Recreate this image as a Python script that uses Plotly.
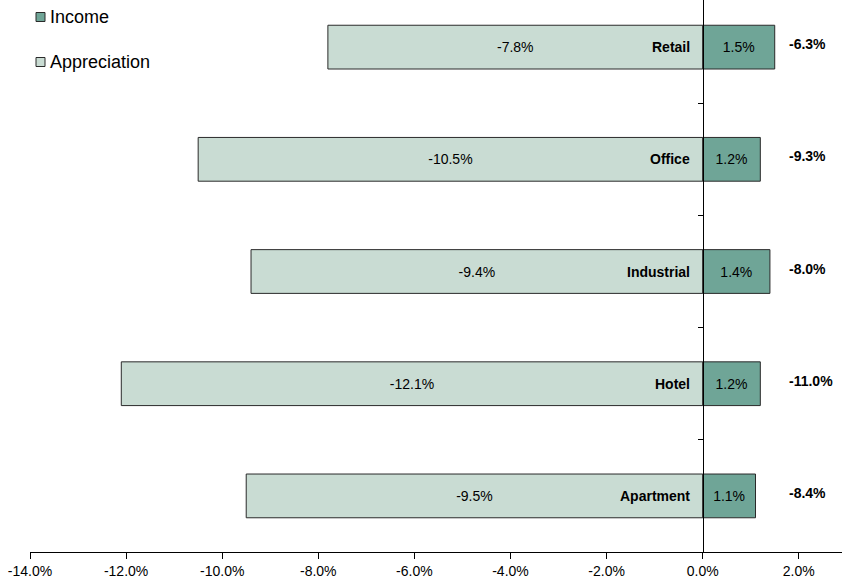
import plotly.graph_objects as go

categories = ["Apartment", "Hotel", "Industrial", "Office", "Retail"]
appreciation = [-9.5, -12.1, -9.4, -10.5, -7.8]
income = [1.1, 1.2, 1.4, 1.2, 1.5]
totals = [-8.4, -11.0, -8.0, -9.3, -6.3]
x_ticks = [-14, -12, -10, -8, -6, -4, -2, 0, 2]
legend_labels = ["Income", "Appreciation"]

INCOME_COLOR = "#6fa597"
APPREC_COLOR = "#c9dcd3"
EDGE = "#2a2a2a"

ypos = list(range(len(categories)))
FONT = "Liberation Sans, Arial, sans-serif"
XMIN, XMAX = -14, 2.9
W, H = 842, 585
ML, MR, MT, MB = 30, 0, 0, 33

fig = go.Figure()
fig.add_trace(go.Bar(
    y=ypos, x=income, orientation="h", name=legend_labels[0],
    marker=dict(color=INCOME_COLOR, line=dict(color=EDGE, width=1)),
    width=0.39, text=[f"{v:.1f}%" for v in income], textposition="inside",
    insidetextanchor="middle", textfont=dict(size=14, color="black", family=FONT),
    hoverinfo="skip", showlegend=False,
))
fig.add_trace(go.Bar(
    y=ypos, x=appreciation, orientation="h", name=legend_labels[1],
    marker=dict(color=APPREC_COLOR, line=dict(color=EDGE, width=1)),
    width=0.39, text=[f"{v:.1f}%" for v in appreciation], textposition="inside",
    insidetextanchor="middle", textfont=dict(size=14, color="black", family=FONT),
    hoverinfo="skip", showlegend=False,
))

annotations = []
for y, c in zip(ypos, categories):
    annotations.append(dict(x=0, y=y, xref="x", yref="y", text=f"<b>{c}</b>",
                            showarrow=False, xanchor="right", xshift=-11,
                            font=dict(size=14, color="black", family=FONT)))
total_col = max(income)
for y, t in zip(ypos, totals):
    annotations.append(dict(x=total_col, y=y, xref="x", yref="y", text=f"<b>{t:.1f}%</b>",
                            showarrow=False, xanchor="left", xshift=12, yshift=3,
                            font=dict(size=14, color="black", family=FONT)))

# manual legend (paper coordinates)
pw = W - ML - MR
ph = H - MT - MB
def px_x(p):
    return (p - ML) / pw
def px_y(p):
    return 1 - (p - MT) / ph

shapes = []
for (lbl, col, yc) in [(legend_labels[0], INCOME_COLOR, 17), (legend_labels[1], APPREC_COLOR, 62)]:
    shapes.append(dict(type="rect", xref="paper", yref="paper",
                       x0=px_x(36), x1=px_x(45), y0=px_y(yc - 4.5), y1=px_y(yc + 4.5),
                       fillcolor=col, line=dict(color=EDGE, width=1)))
    annotations.append(dict(x=px_x(47.5), y=px_y(yc), xref="paper", yref="paper",
                            text=lbl, showarrow=False, xanchor="left", yanchor="middle",
                            font=dict(size=18, color="black", family=FONT)))

fig.update_layout(
    width=W, height=H,
    margin=dict(l=ML, r=MR, t=MT, b=MB, pad=0),
    paper_bgcolor="white", plot_bgcolor="white",
    barmode="relative",
    font=dict(family=FONT, color="black", size=14),
    showlegend=False,
    annotations=annotations,
    shapes=shapes,
    xaxis=dict(range=[XMIN, XMAX], tickvals=x_ticks,
               ticktext=[f"{v:.1f}%" for v in x_ticks],
               showgrid=False, zeroline=False, showline=True, linecolor="black",
               linewidth=1, ticks="outside", ticklen=6, tickcolor="black",
               tickfont=dict(size=14, family=FONT), automargin=False),
    yaxis=dict(range=[-0.5, 4.42], showgrid=False, zeroline=False,
               showline=True, linecolor="black", linewidth=1,
               anchor="free", position=(0 - XMIN) / (XMAX - XMIN),
               tickvals=[-0.5, 0.5, 1.5, 2.5, 3.5], ticks="outside", ticklen=5,
               tickcolor="black", showticklabels=False, automargin=False),
)

fig.write_html("out.html", config={"displayModeBar": False},
               post_script="document.body.style.margin='0';document.body.style.overflow='hidden';")
